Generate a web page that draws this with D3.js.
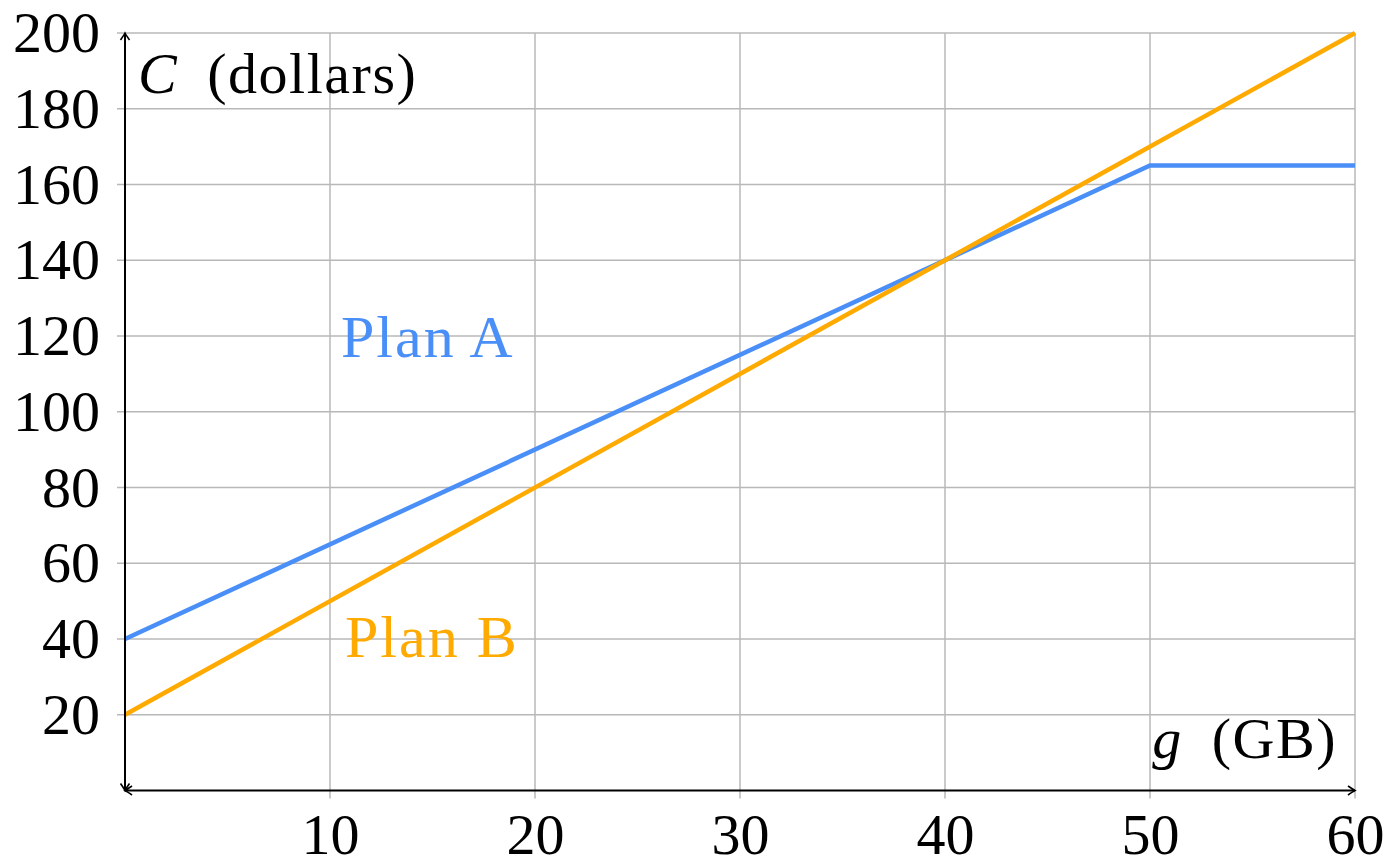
<!DOCTYPE html>
<html>
<head>
<meta charset="utf-8">
<script src="https://cdn.jsdelivr.net/npm/d3@7"></script>
<style>
  body { margin: 0; background: #fff; }
  text { font-family: "Liberation Serif", "DejaVu Serif", serif; }
</style>
</head>
<body>
<div id="chart"></div>
<script>
// data
const xTicks = [10, 20, 30, 40, 50, 60];
const yTicks = [20, 40, 60, 80, 100, 120, 140, 160, 180, 200];
const planA = [{ g: 0, c: 40 }, { g: 50, c: 165 }, { g: 60, c: 165 }];
const planB = [{ g: 0, c: 20 }, { g: 60, c: 200 }];

const W = 1399, H = 868;
const colors = { a: '#4a8ff7', b: '#ffaa00' };

const svg = d3.select('#chart').append('svg')
    .attr('width', W).attr('height', H);

const x = d3.scaleLinear().domain([0, 60]).range([125, 1355]);
const y = d3.scaleLinear().domain([0, 200]).range([790.5, 33]);

// grid
const grid = svg.append('g').attr('stroke', '#b8b8b8').attr('stroke-width', 1.5);
grid.selectAll('.h').data(yTicks).join('line')
    .attr('x1', x(0) - 8).attr('x2', x(60))
    .attr('y1', d => y(d)).attr('y2', d => y(d));
grid.selectAll('.v').data(xTicks).join('line')
    .attr('y1', y(200)).attr('y2', y(0) + 8)
    .attr('x1', d => x(d)).attr('x2', d => x(d));

// tick labels
const xAxis = svg.append('g').attr('transform', `translate(0,${y(0)})`)
    .call(d3.axisBottom(x).tickValues(xTicks).tickSize(0).tickPadding(22));
const yAxis = svg.append('g').attr('transform', `translate(${x(0)},0)`)
    .call(d3.axisLeft(y).tickValues(yTicks).tickSize(0).tickPadding(25));
[xAxis, yAxis].forEach(a => {
    a.select('.domain').remove();
    a.selectAll('text').attr('font-family', '"Liberation Serif", serif')
        .attr('font-size', 58).attr('fill', '#000');
});

// lines
const line = d3.line().x(d => x(d.g)).y(d => y(d.c));
svg.append('path').datum(planA).attr('d', line)
    .attr('fill', 'none').attr('stroke', colors.a).attr('stroke-width', 4.5);
svg.append('path').datum(planB).attr('d', line)
    .attr('fill', 'none').attr('stroke', colors.b).attr('stroke-width', 4.5);

// axes with arrows
const ax = svg.append('g').attr('stroke', '#000').attr('fill', 'none').attr('stroke-width', 2);
ax.append('line').attr('x1', x(0)).attr('x2', x(60)).attr('y1', y(0)).attr('y2', y(0));
ax.append('line').attr('x1', x(0)).attr('x2', x(0)).attr('y1', y(0)).attr('y2', y(200));
const head = 'M-4.5,-7 Q-1,-2 0,0 Q1,-2 4.5,-7';
const arrows = [
    { px: x(0), py: y(200), rot: 180 },
    { px: x(0), py: y(0), rot: 0 },
    { px: x(0), py: y(0), rot: 90 },
    { px: x(60), py: y(0), rot: -90 }
];
ax.selectAll('.arr').data(arrows).join('path')
    .attr('d', head).attr('stroke-width', 1.6)
    .attr('transform', d => `translate(${d.px},${d.py}) rotate(${d.rot})`);

// axis labels
const yl = svg.append('text').attr('x', 138).attr('y', 93).attr('font-size', 58)
    .attr('letter-spacing', 1.5);
yl.append('tspan').attr('font-style', 'italic').text('C');
yl.append('tspan').text('\u2009 (dollars)');

const xl = svg.append('text').attr('x', 1337).attr('y', 758)
    .attr('font-size', 58).attr('text-anchor', 'end').attr('letter-spacing', 1.5);
xl.append('tspan').attr('font-style', 'italic').text('g');
xl.append('tspan').text('\u2009 (GB)');

// series labels
svg.append('text').attr('x', 341).attr('y', 357).attr('font-size', 60)
    .attr('letter-spacing', 2).attr('fill', colors.a).text('Plan A');
svg.append('text').attr('x', 345).attr('y', 657).attr('font-size', 60)
    .attr('letter-spacing', 2).attr('fill', colors.b).text('Plan B');
</script>
</body>
</html>
